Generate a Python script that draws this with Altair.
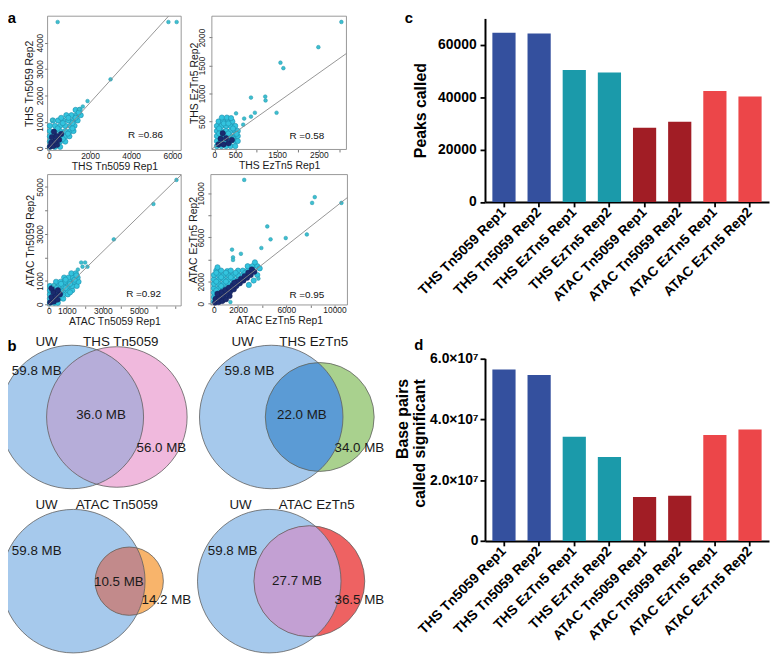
import math
import altair as alt
import pandas as pd

# ---------------- data ----------------
samples = ["THS Tn5059 Rep1", "THS Tn5059 Rep2", "THS EzTn5 Rep1", "THS EzTn5 Rep2",
           "ATAC Tn5059 Rep1", "ATAC Tn5059 Rep2", "ATAC EzTn5 Rep1", "ATAC EzTn5 Rep2"]
peaks_called = [64500, 64200, 50300, 49400, 28300, 30600, 42300, 40200]
bp_significant = [5.63e7, 5.45e7, 3.42e7, 2.76e7, 1.44e7, 1.48e7, 3.48e7, 3.66e7]

scatter_names = [("THS Tn5059 Rep1", "THS Tn5059 Rep2"), ("THS EzTn5 Rep1", "THS EzTn5 Rep2"),
                 ("ATAC Tn5059 Rep1", "ATAC Tn5059 Rep2"), ("ATAC EzTn5 Rep1", "ATAC EzTn5 Rep2")]
r_values = [0.86, 0.58, 0.92, 0.95]
fit_lines = [(0, 0.86), (40, 0.53), (0, 0.75), (100, 0.86)]  # intercept, slope

s1_cloud = [(50, 50), (300, 50), (550, 50),
            (50, 250), (300, 250), (550, 250), (800, 250),
            (50, 450), (300, 450), (550, 450), (800, 450), (1000, 450),
            (50, 650), (300, 650), (550, 650), (800, 650), (1050, 650), (1200, 650),
            (50, 850), (300, 850), (550, 850), (800, 850), (1050, 850), (1250, 850),
            (200, 1050), (450, 1050), (700, 1050), (950, 1050), (1200, 1050), (1400, 1050),
            (850, 1250), (1100, 1250), (1350, 1250), (1550, 1250),
            (1300, 1450), (1500, 1450),
            (180, 150), (430, 150), (680, 350), (180, 550), (430, 750), (930, 550), (680, 950),
            (1150, 750), (1150, 950), (1300, 1150), (950, 1150), (600, 1150), (1450, 1350)]
s1_core = [(60, 60), (220, 80), (400, 130), (120, 220), (300, 260), (500, 320),
           (150, 420), (380, 460), (600, 540), (250, 620)]
s1_out = [(430, 4780), (5810, 4780), (6210, 4780), (3000, 2610), (1880, 1785),
          (1650, 1580), (1480, 1480), (160, 1070)]

s2_cloud = [(60, 60), (170, 60), (280, 60), (390, 60), (500, 60),
            (60, 150), (170, 150), (280, 150), (390, 150), (500, 150), (560, 150),
            (60, 240), (170, 240), (280, 240), (390, 240), (500, 240), (560, 240),
            (60, 330), (170, 330), (280, 330), (390, 330), (500, 330), (560, 330),
            (60, 420), (170, 420), (280, 420), (390, 420), (500, 420),
            (100, 500), (210, 500), (320, 500), (430, 500),
            (180, 570), (300, 570), (400, 560),
            (115, 105), (225, 195), (335, 285), (445, 375), (115, 375), (225, 465), (445, 195),
            (335, 465), (530, 280), (115, 285), (225, 105)]
s2_core = [(100, 90), (220, 90), (340, 110), (150, 190), (280, 200), (420, 170), (200, 290)]
s2_out = [(3039, 2277), (2488, 1827), (1581, 1550), (1651, 1452), (876, 927), (1217, 944),
          (1225, 875), (969, 656), (1488, 656), (713, 552), (876, 587), (519, 645), (690, 443)]

s3_cloud = [(60, 60), (300, 60), (500, 60),
            (60, 240), (300, 240), (550, 240), (800, 240),
            (60, 420), (300, 420), (550, 420), (800, 420), (1050, 420),
            (60, 600), (300, 600), (550, 600), (800, 600), (1050, 600), (1300, 600),
            (60, 780), (300, 780), (550, 780), (800, 780), (1050, 780), (1300, 780), (1550, 780),
            (400, 960), (650, 960), (900, 960), (1150, 960), (1400, 960), (1650, 960),
            (850, 1140), (1100, 1140), (1350, 1140), (1600, 1140),
            (1250, 1320), (1500, 1320),
            (180, 150), (420, 330), (680, 510), (930, 690), (1180, 870), (1430, 1050),
            (180, 510), (420, 690), (680, 870), (1180, 510), (930, 1050), (1530, 1230)]
s3_core = [(80, 80), (280, 120), (480, 200), (150, 300), (380, 360), (620, 430),
           (250, 520), (500, 600), (150, 680)]
s3_out = [(7088, 5301), (5808, 4274), (3610, 2767), (1797, 1781), (2016, 1781),
          (2145, 1603), (1870, 1603), (1612, 1479), (277, 822)]

s4_cloud = [(0, 200), (400, 200),
            (0, 600), (400, 600), (800, 600),
            (0, 1000), (400, 1000), (800, 1000), (1200, 1000),
            (0, 1400), (400, 1400), (800, 1400), (1200, 1400), (1600, 1400),
            (0, 1800), (400, 1800), (800, 1800), (1200, 1800), (1600, 1800), (2000, 1800),
            (0, 2200), (400, 2200), (800, 2200), (1200, 2200), (1600, 2200), (2000, 2200), (2400, 2200),
            (0, 2600), (400, 2600), (800, 2600), (1200, 2600), (1600, 2600), (2000, 2600), (2400, 2600), (2800, 2600),
            (200, 3000), (600, 3000), (1100, 2950), (2000, 3000), (2400, 3000), (2800, 3000), (3200, 3000),
            (300, 3300), (2800, 3400), (3200, 3400), (3600, 3400),
            (3400, 3750), (3800, 3200), (3600, 2600), (3300, 2100), (2900, 1700),
            (200, 2000), (600, 2400), (1000, 2800), (1400, 2400), (1800, 2800), (200, 1200),
            (600, 1600), (1000, 2000), (200, 2800), (600, 800), (1400, 3000), (2600, 2800)]
s4_core = [(100, 100), (400, 150), (700, 250), (1000, 400), (1300, 700),
           (150, 450), (450, 550), (750, 700), (1050, 900), (1350, 1100), (1650, 1300),
           (300, 900), (650, 1050), (950, 1250), (1250, 1450), (1550, 1650),
           (1850, 1600), (2150, 1850), (2450, 2100), (2750, 2350), (3050, 2600), (3350, 2900),
           (1950, 2000), (2250, 2250), (2550, 2500), (2850, 2800), (3150, 3100), (1700, 1900)]
s4_out = [(2514, 11220), (8361, 9659), (8142, 9134), (10574, 9134), (4426, 7000),
          (4699, 5836), (5956, 5950), (7705, 6273), (3934, 5048), (1503, 4900),
          (2240, 4523), (1585, 4200), (1585, 3965), (3689, 2275), (1369, 150)]

venn_sets = [("UW", "THS Tn5059"), ("UW", "THS EzTn5"), ("UW", "ATAC Tn5059"), ("UW", "ATAC EzTn5")]
venn_mb = [(59.8, 36.0, 56.0), (59.8, 22.0, 34.0), (59.8, 10.5, 14.2), (59.8, 27.7, 36.5)]

# ---------------- layout / style ----------------
# canvas = page minus the 8px margin; reference pixel positions are mapped onto it
W, H = 770, 648
SY = H / 664.0


def X(v):
    return v - 8.0


def Y(v):
    return v * SY


FONT = "Liberation Sans"
CYAN = "#33C4DE"
CYAN_EDGE = "#1C8DAA"
OUT_FILL = "#3DBFCF"
NAVY = "#1B2A6E"

bar_colors = ["#34509E", "#34509E", "#1B9AAA", "#1B9AAA", "#A11D25", "#A11D25", "#EC4649", "#EC4649"]

scatter_layout = [
    dict(box=(48, 183, 5, 144), xdom=[-60, 6430], ydom=[-85, 5000],
         xticks=[0, 2000, 4000, 6000], xlabels=[0, 2000, 4000, 6000],
         yticks=[0, 1000, 2000, 3000, 4000], ylabels=[0, 1000, 2000, 3000, 4000],
         ytx=30, ypad=0, rpos=(147, 128)),
    dict(box=(214, 350, 5, 143), xdom=[-60, 3160], ydom=[0, 2380],
         xticks=[0, 500, 1000, 1500, 2000, 2500, 3000], xlabels=[0, 500, 1500, 2500],
         yticks=[500, 1000, 1500, 2000], ylabels=[500, 1000, 1500, 2000],
         ytx=196, ypad=2, rpos=(310, 129)),
    dict(box=(48, 183, 169, 305), xdom=[-70, 7350], ydom=[-70, 5527],
         xticks=[0, 1000, 2000, 3000, 4000, 5000, 6000, 7000], xlabels=[0, 1000, 3000, 5000],
         yticks=[0, 1000, 2000, 3000, 4000, 5000], ylabels=[0, 1000, 3000, 5000],
         ytx=30.5, ypad=0, rpos=(145, 293)),
    dict(box=(213, 351, 169, 304), xdom=[-250, 11070], ydom=[-115, 11700],
         xticks=[0, 2000, 4000, 6000, 8000, 10000], xlabels=[0, 2000, 6000, 10000],
         yticks=[0, 2000, 4000, 6000, 8000, 10000], ylabels=[0, 2000, 6000, 10000],
         ytx=195.5, ypad=2, rpos=(310, 294)),
]

venn_layout = [
    dict(a=(72.5, 420, 72.5), b=(118, 420, 71), ta=(47, 342), tb=(122, 342),
         v=[(37, 372), (102, 418), (163, 452)], colb="#F0B9DD", colab="#B6ADD9"),
    dict(a=(274, 420, 72.5), b=(323, 420, 55), ta=(245, 342), tb=(317, 342),
         v=[(252, 372), (305, 418), (363, 452)], colb="#A9D18E", colab="#5B9BD5"),
    dict(a=(74, 590, 72.5), b=(130.5, 590, 34.5), ta=(47, 511), tb=(118, 511),
         v=[(37, 559), (120, 591), (168, 610)], colb="#F8B46B", colab="#C28A8B"),
    dict(a=(272, 590, 72.5), b=(312.5, 590, 56), ta=(243, 511), tb=(320, 511),
         v=[(235, 559), (300, 590), (363, 610)], colb="#EE6262", colab="#C3A0D3"),
]
VENN_BLUE = "#A6C9EC"


def pts_df(pairs):
    return pd.DataFrame(pairs, columns=["x", "y"])


def label_expr(vals):
    return "indexof([" + ",".join(str(v) for v in vals) + "], datum.value) >= 0 ? datum.label : ''"


def fit_segment(a, b, xdom, ydom):
    x0 = xdom[0]
    y0 = a + b * x0
    if y0 < ydom[0]:
        x0 = (ydom[0] - a) / b
        y0 = ydom[0]
    x1 = xdom[1]
    y1 = a + b * x1
    if y1 > ydom[1]:
        x1 = (ydom[1] - a) / b
        y1 = ydom[1]
    return [(x0, y0), (x1, y1)]


def scatter(i, cloud, core, outliers):
    """Returns a flat list of charts; each uses the same explicit scale domain and pixel range."""
    lay = scatter_layout[i]
    bx0, bx1, by0, by1 = lay["box"]
    xdom, ydom = lay["xdom"], lay["ydom"]

    def xs():
        return alt.Scale(domain=xdom, range=[X(bx0), X(bx1)], nice=False, zero=False)

    def ys():
        return alt.Scale(domain=ydom, range=[Y(by1), Y(by0)], nice=False, zero=False)

    xtitle, ytitle = scatter_names[i]
    xaxis = alt.Axis(orient="bottom", offset=Y(by1) - H, values=lay["xticks"],
                     labelExpr=label_expr(lay["xlabels"]), format="d",
                     title=xtitle, titleY=16, titleBaseline="middle",
                     titleFont=FONT, titleFontSize=10.5, titleFontWeight="normal", titleColor="#1a1a1a",
                     labelFont=FONT, labelFontSize=8.5, labelColor="#1a1a1a", labelPadding=-1.5,
                     labelFlush=False, labelOverlap=False, tickSize=2.5, tickColor="#555555",
                     tickWidth=0.8, domain=False, grid=False)
    yaxis = alt.Axis(orient="left", offset=-X(bx0), values=lay["yticks"],
                     labelExpr=label_expr(lay["ylabels"]), format="d",
                     labelAngle=-90, labelAlign="center", labelBaseline="bottom",
                     labelPadding=lay["ypad"], title=ytitle, titleX=X(lay["ytx"]) - X(bx0),
                     titleAngle=270, titleBaseline="middle",
                     titleFont=FONT, titleFontSize=10.5, titleFontWeight="normal", titleColor="#1a1a1a",
                     labelFont=FONT, labelFontSize=8.5, labelColor="#1a1a1a",
                     labelFlush=False, labelOverlap=False, tickSize=3, tickColor="#555555",
                     tickWidth=0.8, domain=False, grid=False)
    box_df = pd.DataFrame({"x": [xdom[0]], "x2": [xdom[1]], "y": [ydom[0]], "y2": [ydom[1]]})
    box = alt.Chart(box_df).mark_rect(fillOpacity=0, stroke="#8c8c8c", strokeWidth=0.9).encode(
        x=alt.X("x:Q", scale=xs(), axis=xaxis), x2="x2:Q",
        y=alt.Y("y:Q", scale=ys(), axis=yaxis), y2="y2:Q")

    def enc(ch):
        return ch.encode(x=alt.X("x:Q", scale=xs(), axis=None), y=alt.Y("y:Q", scale=ys(), axis=None))

    cl = enc(alt.Chart(pts_df(cloud)).mark_point(shape="circle", filled=True, size=28, opacity=1,
                                                  fill=CYAN, stroke=CYAN_EDGE, strokeWidth=0.6))
    co = enc(alt.Chart(pts_df(core)).mark_point(shape="circle", filled=True, size=30, opacity=1,
                                                 fill=NAVY, stroke="#13205A", strokeWidth=0.5))
    ou = enc(alt.Chart(pts_df(outliers)).mark_point(shape="circle", filled=True, size=14, opacity=1,
                                                     fill=OUT_FILL, stroke="#2797AE", strokeWidth=0.5))
    a, b = fit_lines[i]
    ln = enc(alt.Chart(pts_df(fit_segment(a, b, xdom, ydom))).mark_line(color="#8a8a8a", strokeWidth=0.9))
    return [box, cl, co, ou, ln]


def bar_panel(values, top, bottom, ydom, yticks, lexpr, title, title_x, ypad):
    df = pd.DataFrame({"sample": samples, "value": values, "col": bar_colors})
    xs = alt.Scale(domain=samples, range=[X(490), X(777)], paddingInner=0.34, paddingOuter=0.21)
    ys = alt.Scale(domain=ydom, range=[Y(bottom), Y(top)], nice=False, zero=True)
    xaxis = alt.Axis(orient="bottom", offset=Y(bottom) - H, title="", labelAngle=-45,
                     labelAlign="right", labelBaseline="middle", labelFont=FONT, labelFontWeight="bold",
                     labelFontSize=14, labelColor="black", labelPadding=3, tickSize=5, tickWidth=1.8,
                     tickColor="black", domainColor="black", domainWidth=2, grid=False, labelLimit=300)
    yaxis = alt.Axis(orient="left", offset=-X(490), values=yticks, labelExpr=lexpr, title=title,
                     titleX=X(title_x) - X(490), titleAngle=270, titleBaseline="middle",
                     titleFont=FONT, titleFontWeight="bold", titleFontSize=16, titleColor="black",
                     labelFont=FONT, labelFontWeight="bold", labelFontSize=14, labelColor="black",
                     labelPadding=ypad, labelFlush=False, labelOverlap=False, tickSize=5, tickWidth=1.8,
                     tickColor="black", domainColor="black", domainWidth=2, grid=False)
    return alt.Chart(df).mark_bar(strokeWidth=0).encode(
        x=alt.X("sample:N", scale=xs, axis=xaxis, sort=samples),
        y=alt.Y("value:Q", scale=ys, axis=yaxis),
        color=alt.Color("col:N", scale=None))


def pix():
    return dict(x=alt.X("px:Q", scale=None, axis=None), y=alt.Y("py:Q", scale=None, axis=None))


# ---------------- scatter panels ----------------
scatters = (scatter(0, s1_cloud, s1_core, s1_out) + scatter(1, s2_cloud, s2_core, s2_out)
            + scatter(2, s3_cloud, s3_core, s3_out) + scatter(3, s4_cloud, s4_core, s4_out))

# ---------------- venn diagrams ----------------
circ_rows, lens_rows, vtext_rows = [], [], []
for k, lay in enumerate(venn_layout):
    (ax, ay, ar), (bx, by, br) = lay["a"], lay["b"]
    circ_rows.append(dict(px=X(ax), py=Y(ay), size=(2 * ar) ** 2, fill=VENN_BLUE, order=0))
    circ_rows.append(dict(px=X(bx), py=Y(by), size=(2 * br) ** 2, fill=lay["colb"], order=1))
    cx1, cx2, cy, r1, r2 = X(ax), X(bx), Y(ay), ar, br
    xa, xb = max(cx1 - r1, cx2 - r2), min(cx1 + r1, cx2 + r2)
    n = 120
    for j in range(n + 1):
        xx = xa + (xb - xa) * j / n
        h = min(math.sqrt(max(r1 * r1 - (xx - cx1) ** 2, 0)), math.sqrt(max(r2 * r2 - (xx - cx2) ** 2, 0)))
        lens_rows.append(dict(v=k, px=xx, top=cy - h, bot=cy + h, fill=lay["colab"]))
    na, nb = venn_sets[k]
    vtext_rows.append(dict(px=X(lay["ta"][0]), py=Y(lay["ta"][1]), text=na))
    vtext_rows.append(dict(px=X(lay["tb"][0]), py=Y(lay["tb"][1]), text=nb))
    for (tx, ty), val in zip(lay["v"], venn_mb[k]):
        vtext_rows.append(dict(px=X(tx), py=Y(ty), text=f"{val:.1f} MB"))

circ_df = pd.DataFrame(circ_rows)
venn_fill = alt.Chart(circ_df).mark_point(shape="circle", filled=True, opacity=1, strokeWidth=0).encode(
    **pix(), size=alt.Size("size:Q", scale=None), color=alt.Color("fill:N", scale=None),
    order=alt.Order("order:Q"))
lens_df = pd.DataFrame(lens_rows)
venn_lens = alt.Chart(lens_df).mark_area(orient="vertical", opacity=1).encode(
    x=alt.X("px:Q", scale=None, axis=None), y=alt.Y("top:Q", scale=None, axis=None), y2="bot:Q",
    color=alt.Color("fill:N", scale=None), detail="v:N")
venn_line = alt.Chart(circ_df).mark_point(shape="circle", filled=False, opacity=1, strokeWidth=0.8).encode(
    **pix(), size=alt.Size("size:Q", scale=None), color=alt.value("#5f5f5f"))
vtext_df = pd.DataFrame(vtext_rows)
venn_text = alt.Chart(vtext_df).mark_text(font=FONT, fontSize=13.5, color="#1a1a1a", align="center",
                                          baseline="middle").encode(**pix(), text="text:N")

# ---------------- bar panels ----------------
bar_c = bar_panel(peaks_called, 7.3, 197.3, [0, 70000], [0, 20000, 40000, 60000],
                  "datum.value == 0 ? '0' : format(datum.value, 'd')", "Peaks called", 425, 4)
bar_d = bar_panel(bp_significant, 359.3, 548.3, [0, 6e7], [0, 2e7, 4e7, 6e7],
                  "datum.value == 0 ? '0' : format(datum.value / 1e7, '.1f') + '\u00d710\u2077'", "", 416, 2)

dtitle_df = pd.DataFrame({"px": [X(406.7), X(424)], "py": [Y(422), Y(447.5)],
                          "text": ["Base  pairs", "called significant"]})
d_title = alt.Chart(dtitle_df).mark_text(font=FONT, fontWeight="bold", fontSize=16, color="black",
                                         angle=270, align="center", baseline="middle").encode(
    **pix(), text="text:N")

# ---------------- annotations ----------------
letters_df = pd.DataFrame({"px": [4, 4, X(413), X(423)], "py": [Y(7), Y(347), Y(7), Y(345)],
                           "text": ["a", "b", "c", "d"]})
letters = alt.Chart(letters_df).mark_text(font=FONT, fontWeight="bold", fontSize=15, color="black",
                                          align="center", baseline="middle").encode(
    **pix(), text="text:N")
r_df = pd.DataFrame({"px": [X(l["rpos"][0]) for l in scatter_layout],
                     "py": [Y(l["rpos"][1]) for l in scatter_layout],
                     "text": [f"R ={r:.2f}" for r in r_values]})
r_text = alt.Chart(r_df).mark_text(font=FONT, fontSize=10, color="#111111", align="center",
                                   baseline="middle").encode(**pix(), text="text:N")

chart = alt.layer(
    *scatters, venn_fill, venn_lens, venn_line, venn_text, bar_c, bar_d, d_title, letters, r_text
).resolve_scale(x="independent", y="independent").properties(
    width=W, height=H, autosize=alt.AutoSizeParams(type="none"), padding=0
).configure_view(strokeWidth=0)

chart.save("out.html", embed_options={"renderer": "svg", "actions": False})
